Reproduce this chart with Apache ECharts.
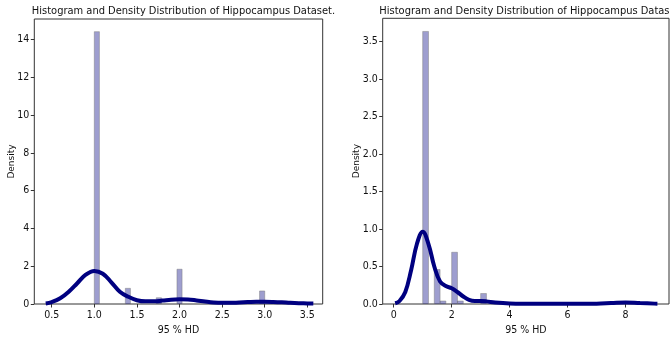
<!DOCTYPE html>
<html><head><meta charset="utf-8">
<script src="https://cdn.jsdelivr.net/npm/echarts@6/dist/echarts.min.js"></script>
<style>html,body{margin:0;padding:0;background:#fff}#c{width:670px;height:343px}</style>
</head><body><div id="c"></div>
<script>
// ---- data: left panel ----
const leftBinStart = [1.000, 1.364, 1.727, 1.970, 2.939];
const leftBinEnd   = [1.060, 1.424, 1.788, 2.030, 3.000];
const leftBinDensity = [14.41, 0.83, 0.33, 1.84, 0.69];
const leftKdeX = [0.43,0.5,0.6,0.7,0.8,0.9,1.0,1.1,1.2,1.3,1.4,1.5,1.6,1.7,1.8,1.9,2.0,2.1,2.2,2.3,2.4,2.5,2.6,2.7,2.8,2.9,3.0,3.1,3.2,3.3,3.4,3.5,3.57];
const leftKdeY = [0.03,0.1,0.3,0.65,1.1,1.55,1.75,1.6,1.15,0.65,0.38,0.2,0.14,0.14,0.18,0.23,0.25,0.24,0.19,0.13,0.08,0.06,0.06,0.08,0.1,0.12,0.12,0.11,0.09,0.06,0.04,0.03,0.02];
const leftXTicks = [0.5,1.0,1.5,2.0,2.5,3.0,3.5];
const leftYTicks = [0,2,4,6,8,10,12,14];
// ---- data: right panel ----
const rightBinStart = [1.0, 1.4, 1.6, 2.0, 2.2, 3.0, 7.9];
const rightBinEnd   = [1.2, 1.6, 1.8, 2.2, 2.4, 3.2, 8.1];
const rightBinDensity = [3.635, 0.46, 0.04, 0.69, 0.04, 0.14, 0.03];
const rightKdeX = [0.05,0.2,0.4,0.6,0.8,1.0,1.2,1.4,1.6,1.8,2.0,2.2,2.4,2.6,2.8,3.0,3.2,3.5,4.0,5.0,6.0,7.0,7.5,8.0,8.5,9.0,9.1];
const rightKdeY = [0.01,0.04,0.16,0.45,0.8,0.965,0.8,0.5,0.3,0.24,0.21,0.16,0.1,0.055,0.04,0.04,0.035,0.02,0.008,0.004,0.004,0.005,0.012,0.02,0.012,0.005,0.004];
const rightXTicks = [0,2,4,6,8];
const rightYTicks = [0,0.5,1.0,1.5,2.0,2.5,3.0,3.5];

const titleText = 'Histogram and Density Distribution of Hippocampus Dataset.';
const xName = '95 % HD';
const yName = 'Density';

const COND = '"DejaVu Sans Condensed", "DejaVu Sans", sans-serif';
const axisColor = '#333';

function zipPairs(a, b) { return a.map((v, i) => [v, b[i]]); }
function bins(s, e, h) { return s.map((v, i) => [v, e[i], h[i]]); }

function renderBar(params, api) {
  const p0 = api.coord([api.value(0), 0]);
  const p1 = api.coord([api.value(1), api.value(2)]);
  return {
    type: 'rect',
    shape: { x: p0[0], y: p1[1], width: p1[0] - p0[0], height: p0[1] - p1[1] },
    style: { fill: 'rgba(0,0,128,0.38)', stroke: 'rgba(120,120,120,0.45)', lineWidth: 1 }
  };
}

function xAxis(idx, min, max, ticks, dec) {
  return {
    type: 'value', gridIndex: idx, min: min, max: max,
    splitLine: { show: false }, axisLine: { show: false, onZero: false },
    axisTick: { show: true, length: 3.5, lineStyle: { color: axisColor }, customValues: ticks },
    axisLabel: { customValues: ticks, color: '#111', fontFamily: COND, fontSize: 10.5, margin: 6,
      formatter: v => v.toFixed(dec) },
    name: xName, nameLocation: 'middle', nameGap: 21, nameMoveOverlap: false,
    nameTextStyle: { fontFamily: COND, fontSize: 10.5, color: '#111' }
  };
}
function yAxis(idx, min, max, ticks, dec) {
  return {
    type: 'value', gridIndex: idx, min: min, max: max,
    splitLine: { show: false }, axisLine: { show: false, onZero: false },
    axisTick: { show: true, length: 3.5, lineStyle: { color: axisColor }, customValues: ticks },
    axisLabel: { customValues: ticks, color: '#111', fontFamily: COND, fontSize: 10.5, margin: 5,
      formatter: v => v.toFixed(dec) },
    name: yName, nameLocation: 'middle', nameGap: idx === 0 ? 18 : 22, nameMoveOverlap: false,
    nameTextStyle: { fontFamily: '"DejaVu Sans", sans-serif', fontSize: 9, color: '#111' }
  };
}

const chart = echarts.init(document.getElementById('c'), null, { renderer: 'canvas' });
chart.setOption({
  animation: false,
  backgroundColor: '#fff',
  title: [
    { text: titleText, left: 178.5, top: 1, textAlign: 'center',
      textStyle: { fontFamily: COND, fontSize: 11, fontWeight: 'normal', color: '#111' } },
    { text: titleText, left: 526, top: 1, textAlign: 'center',
      textStyle: { fontFamily: COND, fontSize: 11, fontWeight: 'normal', color: '#111' } }
  ],
  grid: [
    { left: 34.3, right: 347.3, top: 19, bottom: 39, show: true, borderColor: axisColor, borderWidth: 1, backgroundColor: 'transparent' },
    { left: 382.7, right: 1, top: 18.3, bottom: 39, show: true, borderColor: axisColor, borderWidth: 1, backgroundColor: 'transparent' }
  ],
  xAxis: [ xAxis(0, 0.296, 3.68, leftXTicks, 1), xAxis(1, -0.38, 9.5, rightXTicks, 0) ],
  yAxis: [ yAxis(0, 0, 15.08, leftYTicks, 0), yAxis(1, 0, 3.81, rightYTicks, 1) ],
  series: [
    { type: 'custom', xAxisIndex: 0, yAxisIndex: 0, renderItem: renderBar,
      data: bins(leftBinStart, leftBinEnd, leftBinDensity), clip: true, z: 1 },
    { type: 'line', xAxisIndex: 0, yAxisIndex: 0, data: zipPairs(leftKdeX, leftKdeY),
      smooth: 0.4, showSymbol: false, symbol: 'none', lineStyle: { color: '#000080', width: 4 }, z: 3 },
    { type: 'custom', xAxisIndex: 1, yAxisIndex: 1, renderItem: renderBar,
      data: bins(rightBinStart, rightBinEnd, rightBinDensity), clip: true, z: 1 },
    { type: 'line', xAxisIndex: 1, yAxisIndex: 1, data: zipPairs(rightKdeX, rightKdeY),
      smooth: 0.4, showSymbol: false, symbol: 'none', lineStyle: { color: '#000080', width: 4 }, z: 3 }
  ]
});
</script></body></html>
